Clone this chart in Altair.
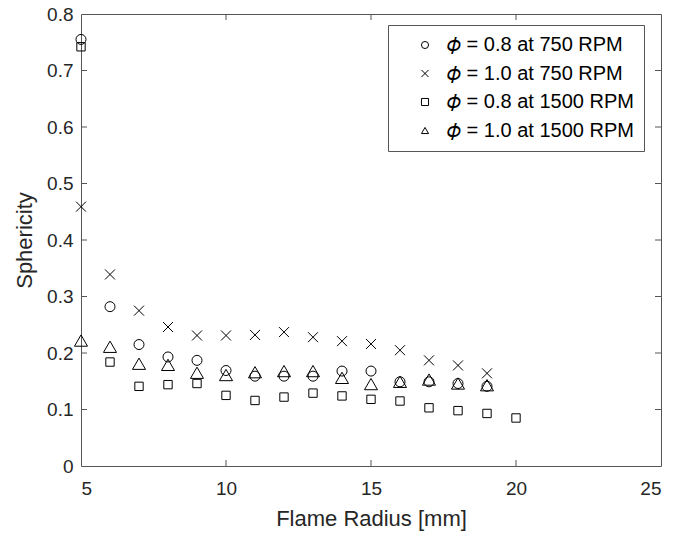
import altair as alt
import pandas as pd

# ---- data ----
series_names = [
    "\U0001D719 = 0.8 at 750 RPM",
    "\U0001D719 = 1.0 at 750 RPM",
    "\U0001D719 = 0.8 at 1500 RPM",
    "\U0001D719 = 1.0 at 1500 RPM",
]

radius_a = [5, 6, 7, 8, 9, 10, 11, 12, 13, 14, 15, 16, 17, 18, 19]
sph_a = [0.755, 0.282, 0.215, 0.193, 0.187, 0.169, 0.159, 0.159, 0.159, 0.168, 0.168, 0.149, 0.149, 0.146, 0.141]

radius_b = [5, 6, 7, 8, 9, 10, 11, 12, 13, 14, 15, 16, 17, 18, 19]
sph_b = [0.459, 0.339, 0.275, 0.246, 0.231, 0.231, 0.232, 0.237, 0.228, 0.221, 0.216, 0.205, 0.187, 0.178, 0.164]

radius_c = [5, 6, 7, 8, 9, 10, 11, 12, 13, 14, 15, 16, 17, 18, 19, 20]
sph_c = [0.742, 0.184, 0.141, 0.144, 0.146, 0.125, 0.116, 0.122, 0.129, 0.124, 0.118, 0.115, 0.103, 0.098, 0.093, 0.085]

radius_d = [5, 6, 7, 8, 9, 10, 11, 12, 13, 14, 15, 16, 17, 18, 19]
sph_d = [0.222, 0.211, 0.181, 0.179, 0.165, 0.161, 0.166, 0.168, 0.168, 0.156, 0.145, 0.149, 0.153, 0.146, 0.143]

x_ticks = [5, 10, 15, 20, 25]
y_ticks = [0, 0.1, 0.2, 0.3, 0.4, 0.5, 0.6, 0.7, 0.8]
x_inner_ticks = [10, 15, 20]
y_inner_ticks = [0.1, 0.2, 0.3, 0.4, 0.5, 0.6, 0.7]

rows = []
for name, xs, ys in zip(series_names, [radius_a, radius_b, radius_c, radius_d], [sph_a, sph_b, sph_c, sph_d]):
    for xv, yv in zip(xs, ys):
        rows.append({"radius": xv, "sphericity": yv, "series": name})
df = pd.DataFrame(rows)

X_PATH = "M-1,-1L1,1M1,-1L-1,1"
FONT = "Liberation Sans"
AXC = "#262626"
W, H = 580, 452

xscale = alt.Scale(domain=[5, 25], nice=False, zero=False)
yscale = alt.Scale(domain=[0, 0.8], nice=False)

legend = alt.Legend(title=None, orient="none", legendX=307, legendY=11,
                    padding=10, symbolOffset=17, labelOffset=12,
                    rowPadding=8.5, symbolSize=50, symbolStrokeWidth=1,
                    symbolStrokeColor="black", symbolFillColor="transparent",
                    labelFont=FONT, labelFontSize=20, labelColor="black", labelLimit=400,
                    strokeColor="#555555", fillColor="white")

enc = dict(
    x=alt.X("radius:Q", scale=xscale,
            axis=alt.Axis(values=x_ticks, title="Flame Radius [mm]", format="d")),
    y=alt.Y("sphericity:Q", scale=yscale,
            axis=alt.Axis(values=y_ticks, title="Sphericity",
                          labelExpr="datum.value == 0 ? '0' : format(datum.value, '.1f')")),
    shape=alt.Shape("series:N",
                    scale=alt.Scale(domain=series_names,
                                    range=["circle", X_PATH, "square", "triangle-up"]),
                    legend=legend),
)

tri_name = series_names[3]
sq_name = series_names[2]
points_main = alt.Chart(df).transform_filter(
    alt.FieldOneOfPredicate(field="series", oneOf=series_names[:2])
).mark_point(filled=False, strokeWidth=1, color="black", opacity=1, size=100).encode(**enc)
points_sq = alt.Chart(df).transform_filter(
    alt.FieldEqualPredicate(field="series", equal=sq_name)
).mark_point(filled=False, strokeWidth=1, color="black", opacity=1, size=70).encode(**enc)
points_tri = alt.Chart(df).transform_filter(
    alt.FieldEqualPredicate(field="series", equal=tri_name)
).mark_point(filled=False, strokeWidth=1, color="black", opacity=1, size=170).encode(**enc)

tick_df = pd.DataFrame({"v": x_inner_ticks})
ytick_df = pd.DataFrame({"v": y_inner_ticks})
rule_style = dict(color="#555555", strokeWidth=1)
bottom_t = alt.Chart(tick_df).mark_rule(**rule_style).encode(
    x=alt.X("v:Q", scale=xscale), y=alt.value(H), y2=alt.value(H - 6))
top_t = alt.Chart(tick_df).mark_rule(**rule_style).encode(
    x=alt.X("v:Q", scale=xscale), y=alt.value(0), y2=alt.value(6))
left_t = alt.Chart(ytick_df).mark_rule(**rule_style).encode(
    y=alt.Y("v:Q", scale=yscale), x=alt.value(0), x2=alt.value(6))
right_t = alt.Chart(ytick_df).mark_rule(**rule_style).encode(
    y=alt.Y("v:Q", scale=yscale), x=alt.value(W), x2=alt.value(W - 6))

chart = alt.layer(bottom_t, top_t, left_t, right_t, points_main, points_sq, points_tri).properties(
    width=W, height=H,
    autosize=alt.AutoSizeParams(type="none"),
    padding={"left": 81, "top": 14, "right": 15, "bottom": 70},
    background="white",
).configure_view(
    stroke="#555555", strokeWidth=1
).configure_axis(
    grid=False, domain=False, ticks=False,
    labelFont=FONT, labelFontSize=19, labelColor=AXC,
    titleFont=FONT, titleFontSize=22, titleFontWeight="normal", titleColor=AXC,
).configure_axisX(
    labelPadding=13, titlePadding=10
).configure_axisY(
    labelPadding=8, titlePadding=10
)

chart.save("out.html", embed_options={"renderer": "svg", "actions": False})
